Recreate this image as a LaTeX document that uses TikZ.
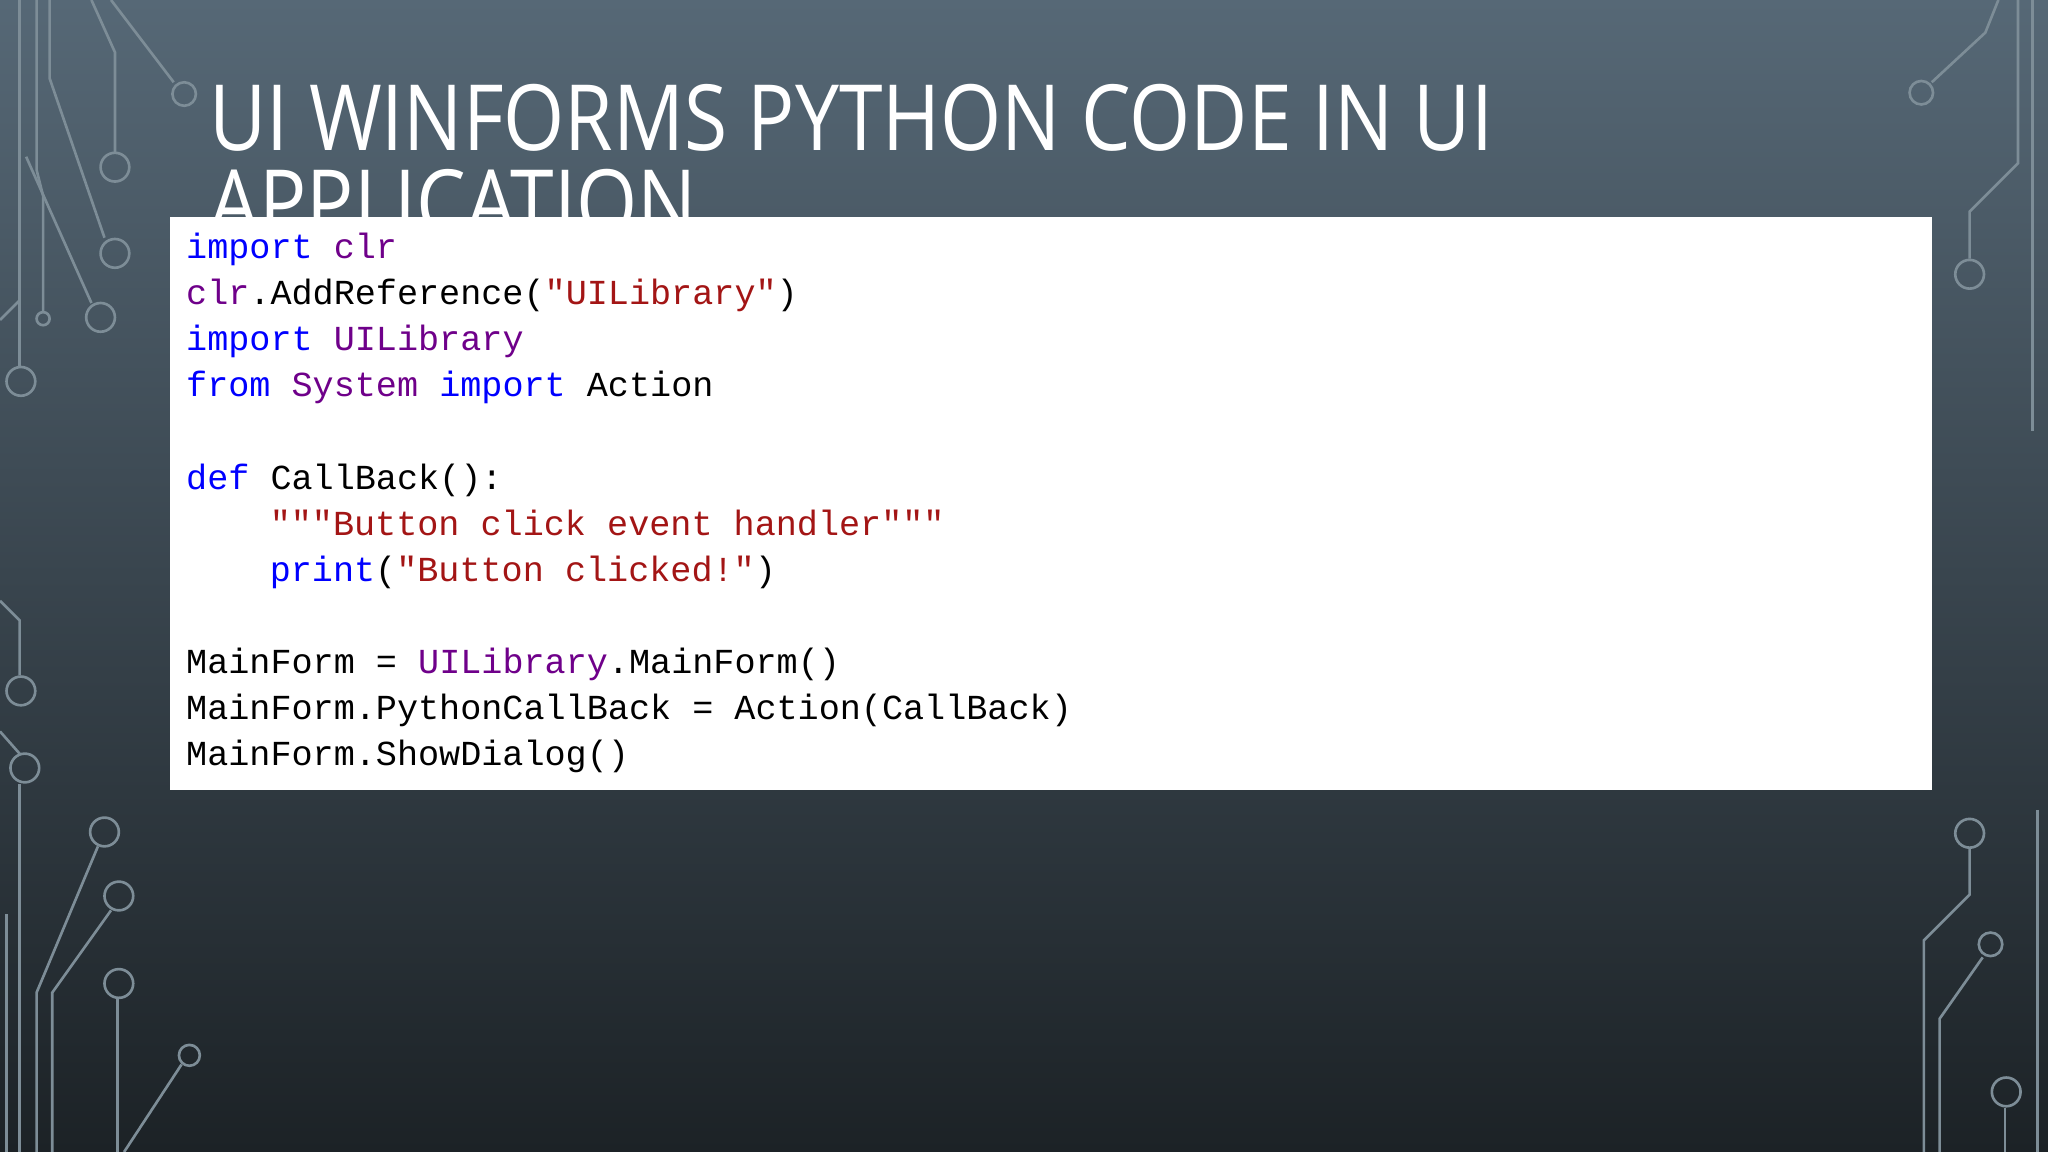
\documentclass[tikz,border=0pt]{standalone}
\usepackage{fontspec}
\setmainfont{Open Sans}
\newfontfamily\titlefont[FakeStretch=0.86]{Open Sans}
\setmonofont{Liberation Mono}
\definecolor{kw}{HTML}{0000FF}
\definecolor{ty}{HTML}{6F008A}
\definecolor{st}{HTML}{A31515}
\definecolor{circ}{HTML}{7D8D97}
\tikzset{codeline/.style={anchor=base west,inner sep=0pt,font=\fontsize{10pt}{12pt}\ttfamily},
  trace/.style={draw=circ,line width=0.75pt},
  pad/.style={draw=circ,line width=0.75pt},
  titletext/.style={anchor=base west,inner sep=0pt,text=white,font=\titlefont\fontsize{26pt}{30pt}\selectfont}}
\begin{document}
\begin{tikzpicture}
\useasboundingbox (0,0) rectangle (20.48,11.52);
\shade[top color={rgb,255:red,86;green,104;blue,118},middle color={rgb,255:red,48;green,60;blue,68},bottom color={rgb,255:red,28;green,34;blue,38}] (0,0) rectangle (20.48,11.52);
\begin{scope}[shift={(0,11.52)},x=0.01306cm,y=-0.01306cm]
% left traces
\draw[trace] (15,0)--(15,281); \draw[pad] (16,292) circle (11);
\draw[trace] (28,0)--(28,130)--(33,150)--(33,238); \draw[pad] (33,244) circle (5);
\draw[trace] (38,0)--(38,60)--(80,182); \draw[pad] (88,194) circle (11);
\draw[trace] (70,0)--(88,40)--(88,117); \draw[pad] (88,128) circle (11);
\draw[trace] (85,0)--(133,63); \draw[pad] (141,72) circle (9);
\draw[trace] (20,120)--(70,232); \draw[pad] (77,243) circle (11);
\draw[trace] (0,245)--(15,230);
\draw[trace] (0,460)--(15,475)--(15,517); \draw[pad] (16,529) circle (11);
\draw[trace] (0,560)--(15,577); \draw[pad] (19,588) circle (11);
\draw[trace] (15,600)--(15,882); \draw[trace] (5,700)--(5,882);
\draw[trace] (28,882)--(28,760)--(75,648); \draw[pad] (80,637) circle (11);
\draw[trace] (40,882)--(40,760)--(85,697); \draw[pad] (91,686) circle (11);
\draw[trace] (90,882)--(90,765); \draw[pad] (91,753) circle (11);
\draw[trace] (95,882)--(139,815); \draw[pad] (145,808) circle (8);
% right traces
\draw[trace] (1530,0)--(1520,25)--(1479,63); \draw[pad] (1471,71) circle (9);
\draw[trace] (1545,0)--(1545,125)--(1508,162)--(1508,198); \draw[pad] (1508,210) circle (11);
\draw[trace] (1556,0)--(1556,330);
\draw[trace] (1508,650)--(1508,685)--(1473,720)--(1473,882); \draw[pad] (1508,638) circle (11);
\draw[trace] (1485,882)--(1485,780)--(1518,733); \draw[pad] (1524,723) circle (9);
\draw[trace] (1535,882)--(1535,848); \draw[pad] (1536,836) circle (11);
\draw[trace] (1560,620)--(1560,882);
% title
\node[titletext] (t1) at (160,115) {UI WINFORMS PYTHON CODE IN UI};
\node[titletext] (t2) at (160,180) {APPLICATION};
% code box
\fill[white] (130,166) rectangle (1479,605);
\node[codeline] (l1) at (142,198) {\color{kw}import \color{ty}clr};
\node[codeline] (l2) at (142,233.3) {\color{ty}clr\color{black}.AddReference(\color{st}"UILibrary"\color{black})};
\node[codeline] (l3) at (142,268.6) {\color{kw}import \color{ty}UILibrary};
\node[codeline] (l4) at (142,303.9) {\color{kw}from \color{ty}System \color{kw}import \color{black}Action};
\node[codeline] (l6) at (142,374.5) {\color{kw}def \color{black}CallBack():};
\node[codeline] (l7) at (206,409.8) {\color{st}"""Button click event handler"""};
\node[codeline] (l8) at (206,445.1) {\color{kw}print\color{black}(\color{st}"Button clicked!"\color{black})};
\node[codeline] (l10) at (142,515.7) {MainForm = \color{ty}UILibrary\color{black}.MainForm()};
\node[codeline] (l11) at (142,551) {MainForm.PythonCallBack = Action(CallBack)};
\node[codeline] (l12) at (142,586.3) {MainForm.ShowDialog()};
\end{scope}
\end{tikzpicture}
\end{document}
